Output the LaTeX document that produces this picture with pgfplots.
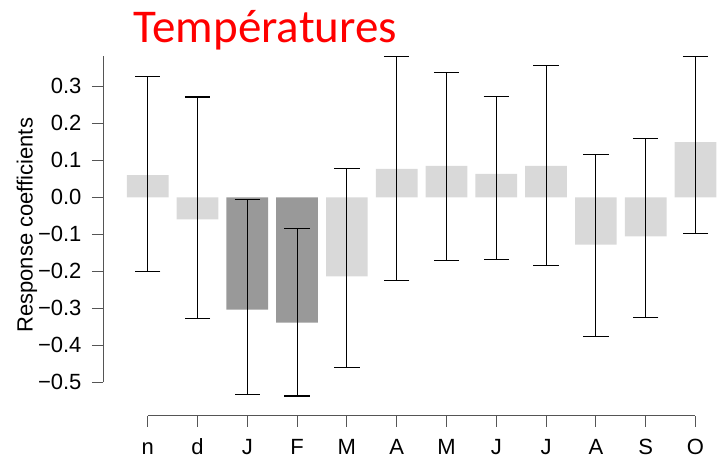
\documentclass[border=0pt]{standalone}
\usepackage{pgfplots}
\pgfplotsset{compat=1.18}
\usepackage{pgfplotstable}
\usepackage{fontspec}
\setmainfont{Liberation Sans}
\newfontfamily\titlefont{Carlito}
\definecolor{lightbar}{HTML}{D9D9D9}
\definecolor{darkbar}{HTML}{999999}
\definecolor{axgray}{HTML}{555555}

\pgfplotstableread{
x y hi lo
0 0.060 0.326 -0.200
1 -0.060 0.271 -0.327
4 -0.214 0.077 -0.459
5 0.077 0.381 -0.225
6 0.085 0.337 -0.172
7 0.063 0.273 -0.169
8 0.085 0.357 -0.184
9 -0.128 0.116 -0.376
10 -0.106 0.158 -0.325
11 0.149 0.381 -0.098
}\lighttab
\pgfplotstableread{
x y hi lo
2 -0.304 -0.005 -0.533
3 -0.339 -0.085 -0.537
}\darktab
\pgfplotstableread{
x y hi lo
0 0.060 0.326 -0.200
1 -0.060 0.271 -0.327
2 -0.304 -0.005 -0.533
3 -0.339 -0.085 -0.537
4 -0.214 0.077 -0.459
5 0.077 0.381 -0.225
6 0.085 0.337 -0.172
7 0.063 0.273 -0.169
8 0.085 0.357 -0.184
9 -0.128 0.116 -0.376
10 -0.106 0.158 -0.325
11 0.149 0.381 -0.098
}\alltab

\begin{document}
\begin{tikzpicture}
\begin{axis}[
  scale only axis,
  x=49.8pt, y=370pt,
  xmin=-0.898, xmax=11.5,
  ymin=-0.591, ymax=0.382,
  clip=false,
  axis line style={draw=none},
  tick align=outside,
  major tick length=11pt,
  tick style={axgray, line width=0.9pt},
  xtick pos=bottom, ytick pos=left,
  xtick={0,...,11},
  xticklabels={n,d,J,F,M,A,M,J,J,A,S,O},
  ytick={-0.5,-0.4,-0.3,-0.2,-0.1,0,0.1,0.2,0.3},
  yticklabels={−0.5,−0.4,−0.3,−0.2,−0.1,0.0,0.1,0.2,0.3},
  tick label style={font=\fontsize{22}{26}\selectfont, black},
  yticklabel style={xshift=-7pt},
  xticklabel style={text height=16pt, text depth=0pt, inner sep=0pt, anchor=north, yshift=-11pt},
]
\addplot[ybar, bar width=41.7pt, bar shift=0pt, fill=lightbar, draw=none] table[x=x,y=y] {\lighttab};
\addplot[ybar, bar width=41.7pt, bar shift=0pt, fill=darkbar, draw=none] table[x=x,y=y] {\darktab};
\addplot[draw=none, mark=none,
  error bars/.cd, y dir=both, y explicit,
  error bar style={draw=black, line width=1.1pt, solid},
  error mark options={draw=black, rotate=90, mark size=12.7pt, line width=1.1pt}]
  table[x=x, y=y, y error plus expr=\thisrow{hi}-\thisrow{y}, y error minus expr=\thisrow{y}-\thisrow{lo}] {\alltab};
\draw[axgray, line width=0.9pt] (axis cs:-0.898,-0.5) -- (axis cs:-0.898,0.382);
\draw[axgray, line width=0.9pt] (axis cs:0,-0.591) -- (axis cs:11,-0.591);
\node[anchor=base west, text=red, font=\titlefont\fontsize{47}{51}\selectfont, inner sep=0pt] at (axis cs:-0.285,0.418) {Températures};
\node[rotate=90, anchor=base, font=\fontsize{22}{26}\selectfont, inner sep=0pt] at (axis cs:-2.309,-0.076) {Response coefficients};
\coordinate (bbl) at (axis cs:-2.966,-0.7073);
\coordinate (btr) at (axis cs:11.633,0.5332);
\end{axis}
\pgfresetboundingbox
\path (bbl) rectangle (btr);
\end{tikzpicture}
\end{document}
